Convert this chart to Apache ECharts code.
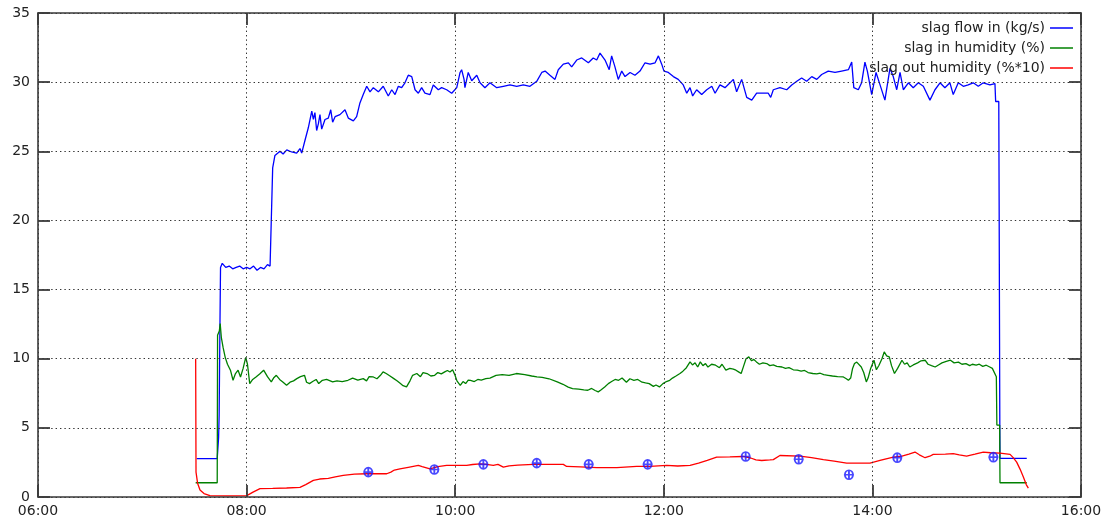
<!DOCTYPE html>
<html>
<head>
<meta charset="utf-8">
<title>Slag dryer log</title>
<script src="https://cdn.jsdelivr.net/npm/echarts@6/dist/echarts.min.js"></script>
<style>
  html, body { margin: 0; padding: 0; background: #ffffff; }
  #chart { width: 1106px; height: 524px; }
</style>
</head>
<body>
<div id="chart"></div>
<script>
// Time is given in minutes after midnight; values as logged.
const seriesNames = ['slag flow in (kg/s)', 'slag in humidity (%)', 'slag out humidity (%*10)'];
const xTickLabels = ['06:00', '08:00', '10:00', '12:00', '14:00', '16:00'];
const yTickLabels = ['0', '5', '10', '15', '20', '25', '30', '35'];

// slag flow in (kg/s)
const flowIn = [
  [451.3,2.78],[463.1,2.78],[463.9,4.3],[464.2,5.9],[464.6,11.5],[465.0,16.6],[466,16.9],[468,16.6],[470,16.7],
  [472,16.5],[474,16.6],[476,16.7],[478,16.5],[480,16.6],[482,16.5],[484,16.7],[486,16.4],[488,16.6],[490,16.5],
  [492,16.8],[493.5,16.7],[495.0,23.8],[496.3,24.7],[499.2,25.0],[501,24.8],[503.1,25.1],[505.9,24.95],[508.8,24.87],
  [510.7,25.2],[511.7,24.87],[513.6,25.8],[515.5,26.7],[517.5,27.9],[518.4,27.3],[519.3,27.8],[520.3,26.5],[521.3,27.0],
  [522.2,27.65],[523.2,26.6],[525.1,27.3],[527.0,27.4],[528.4,28.0],[529.5,27.1],[530.9,27.5],[533.7,27.65],[536.6,28.0],
  [538.5,27.4],[541.4,27.2],[543.3,27.5],[545.2,28.5],[547.1,29.1],[549.1,29.7],[551.0,29.3],[552.9,29.6],[555.8,29.3],
  [558.6,29.7],[561.5,29.0],[563.5,29.45],[565.4,29.1],[567.3,29.7],[569.2,29.6],[571.1,29.95],[573.0,30.5],[575.0,30.4],
  [576.9,29.45],[578.8,29.2],[580.7,29.6],[582.6,29.2],[585.5,29.1],[587.4,29.8],[590.3,29.45],[592.2,29.6],[595.1,29.45],
  [598.0,29.2],[600.9,29.6],[602.8,30.7],[603.7,30.9],[605.1,30.2],[605.6,29.6],[607.5,30.7],[609.5,30.1],[612.4,30.5],
  [614.3,29.95],[617.1,29.6],[620.0,29.95],[623.9,29.6],[627.7,29.7],[631.5,29.8],[635.4,29.7],[639.2,29.8],[643.0,29.7],
  [646.9,30.06],[649.8,30.7],[651.7,30.8],[654.5,30.5],[657.4,30.2],[659.3,30.9],[662.2,31.3],[665.1,31.4],[667.0,31.1],
  [669.9,31.6],[672.8,31.75],[676.6,31.4],[679.4,31.75],[681.4,31.6],[683.3,32.1],[686.2,31.6],[688.6,30.9],[690.0,31.9],
  [691.9,31.1],[693.8,30.2],[695.8,30.8],[697.7,30.4],[700.6,30.7],[703.4,30.5],[706.3,30.8],[709.2,31.4],[712.1,31.3],
  [715.0,31.4],[716.9,31.9],[718.8,31.3],[720.1,30.8],[722.6,30.7],[725.5,30.4],[728.3,30.2],[731.2,29.8],[733.2,29.2],
  [735.1,29.6],[736.6,29.0],[738.9,29.45],[741.8,29.1],[744.7,29.45],[747.6,29.7],[749.5,29.2],[752.3,29.8],[755.2,29.6],
  [758.1,29.95],[760.0,30.2],[761.9,29.3],[764.8,30.2],[767.7,28.9],[770.6,28.7],[773.4,29.2],[777.3,29.2],[780.1,29.2],
  [781.5,28.9],[783.0,29.45],[786.8,29.6],[790.7,29.45],[793.6,29.8],[796.5,30.06],[799.3,30.3],[802.2,30.06],[805.1,30.4],
  [808.0,30.2],[810.8,30.55],[814.6,30.8],[818.5,30.7],[822.3,30.8],[826.2,30.9],[828.1,31.45],[829.3,29.6],[831.9,29.45],
  [833.8,29.95],[835.7,31.45],[837.1,30.8],[839.6,29.1],[842.1,30.7],[844.4,29.8],[847.2,28.7],[850.1,31.0],[852.0,30.4],
  [854.0,29.45],[855.9,30.7],[857.8,29.45],[860.7,29.95],[863.5,29.6],[866.4,29.95],[869.3,29.7],[873.1,28.7],[876.0,29.45],
  [878.9,29.95],[881.7,29.6],[884.6,29.95],[886.5,29.1],[889.4,29.95],[892.3,29.7],[895.1,29.8],[898.0,29.95],[900.9,29.7],
  [903.8,29.95],[907.6,29.8],[910.5,29.9],[910.9,28.6],[912.7,28.6],[912.9,21.5],[913.3,5.2],[913.4,2.8],[928.8,2.8]
];

// slag in humidity (%)
const humidityIn = [
  [450.7,1.03],[463.1,1.03],[463.3,11.7],[464.3,12.0],[464.8,12.55],[465.5,11.5],[466.5,10.8],[467.7,10.1],[469,9.6],
  [470.7,9.17],[472.2,8.44],[473.5,8.9],[475.1,9.17],[476.5,8.68],[478,9.3],[479.5,10.1],[480.5,9.6],[481.8,8.2],
  [483.5,8.5],[485.4,8.68],[487.5,8.9],[489.8,9.17],[492,8.7],[494.2,8.32],[495.5,8.6],[497.1,8.8],[499,8.5],[501,8.3],
  [503.0,8.08],[505,8.3],[507,8.4],[508.9,8.56],[511,8.7],[513.3,8.8],[514.5,8.3],[516.2,8.2],[518,8.35],[520,8.5],
  [521.5,8.2],[523.6,8.44],[526,8.5],[529.5,8.32],[532,8.4],[535,8.35],[538.3,8.44],[541,8.6],[544,8.45],[547.1,8.56],
  [549,8.4],[550.5,8.7],[552.9,8.68],[555,8.55],[557,8.8],[558.5,9.05],[560.3,8.93],[562.5,8.75],[564.7,8.56],[566.5,8.4],
  [568.5,8.2],[570,8.05],[572.0,7.96],[574,8.4],[575.5,8.8],[577.9,8.93],[580,8.7],[581.5,9.0],[583.8,8.93],[586,8.75],
  [588.2,8.8],[590,9.0],[592,8.9],[594,9.05],[595.5,9.15],[597.0,9.04],[598.5,9.2],[599.9,8.8],[601,8.4],[602.9,8.08],
  [604.5,8.35],[606,8.2],[607.5,8.45],[608.8,8.44],[611,8.35],[613,8.5],[615,8.45],[617.6,8.56],[620,8.6],[623.5,8.8],
  [627,8.85],[631,8.8],[635.2,8.93],[640,8.85],[644,8.75],[647.0,8.68],[650,8.65],[654,8.55],[658.7,8.32],[662,8.15],
  [665,7.95],[667.5,7.84],[671,7.8],[674,7.75],[676.3,7.72],[678.5,7.85],[680.5,7.7],[682.3,7.6],[684,7.75],[686,7.95],
  [688.1,8.2],[690,8.35],[692,8.5],[694.0,8.44],[696,8.6],[698.5,8.3],[700.5,8.55],[702.8,8.44],[705,8.5],[707.5,8.3],
  [709.5,8.25],[711.6,8.2],[714,8.0],[715.5,8.1],[717.5,7.96],[719.5,8.2],[721.5,8.35],[723.4,8.44],[725,8.6],[727,8.75],
  [729.3,8.93],[731,9.1],[733,9.35],[735.1,9.77],[736.5,9.55],[738,9.7],[739.5,9.4],[741.0,9.77],[742.5,9.5],[744,9.65],
  [745.4,9.4],[747.5,9.6],[749.8,9.53],[752,9.35],[753.5,9.6],[755.7,9.17],[758,9.3],[760,9.25],[761.5,9.17],[763,9.05],
  [764.5,8.93],[766,9.5],[767.3,10.0],[768.9,10.13],[770.5,9.85],[771.8,9.95],[773.3,9.77],[775,9.6],[777,9.7],[779.2,9.65],
  [781,9.5],[783,9.55],[785,9.45],[788.0,9.4],[790,9.3],[792,9.35],[794.5,9.2],[796.8,9.17],[799,9.1],[801,9.15],[803,9.0],
  [805.7,8.93],[808,8.9],[810,8.95],[812,8.85],[814.5,8.8],[817,8.75],[820,8.7],[823.3,8.68],[825,8.55],[826.2,8.44],
  [827.5,8.6],[828.6,9.3],[829.7,9.65],[831,9.75],[833.6,9.4],[835,9.0],[836.5,8.32],[837.5,8.6],[839,9.3],[840.9,9.89],
  [842.3,9.2],[843.8,9.53],[845.5,10.0],[846.8,10.49],[848.2,10.2],[849.7,10.13],[851,9.5],[852.7,8.93],[854.5,9.3],
  [857.0,9.89],[858.5,9.6],[860,9.7],[861.5,9.4],[863.5,9.55],[866,9.7],[868,9.85],[870.3,9.89],[872,9.6],[874,9.5],
  [876.1,9.4],[878,9.55],[880,9.7],[882.5,9.8],[884.9,9.89],[887,9.7],[889.5,9.75],[891.5,9.6],[893.8,9.65],[896,9.5],
  [897.5,9.6],[899.7,9.53],[901.5,9.6],[903.5,9.45],[905.5,9.53],[907.5,9.4],[909,9.3],[910.0,9.17],[911.3,8.7],
  [911.6,5.2],[913.2,5.2],[913.4,1.03],[928.8,1.03]
];

// slag out humidity (%*10)
const humidityOut = [
  [450.7,10.0],[450.9,1.8],[451.8,1.0],[453.2,0.5],[455.5,0.25],[458.9,0.1],[470,0.08],[480.1,0.1],[483.7,0.35],
  [487.7,0.6],[495,0.62],[503,0.65],[510.7,0.7],[514,0.9],[518.4,1.2],[522,1.3],[527,1.35],[531,1.45],[535.6,1.56],
  [542,1.65],[549.1,1.68],[556,1.68],[560.6,1.68],[563,1.8],[565,1.95],[568.2,2.04],[573,2.15],[578.8,2.28],[581,2.2],
  [585.5,2.04],[590,2.2],[595.1,2.28],[606.6,2.28],[610,2.35],[614.3,2.4],[618,2.36],[621.9,2.28],[624.6,2.36],
  [627.7,2.16],[631,2.25],[636,2.3],[644.9,2.36],[655,2.36],[662.2,2.36],[664.1,2.21],[672,2.18],[681.4,2.12],[693,2.12],
  [704.4,2.21],[712,2.22],[721.7,2.28],[728,2.24],[735.1,2.28],[740,2.45],[745,2.65],[750.4,2.88],[758,2.9],[765.7,2.93],
  [770,2.82],[773,2.68],[776.3,2.64],[781,2.68],[783.0,2.7],[786.8,3.0],[798.3,2.95],[805,2.85],[811.8,2.7],[818,2.6],
  [825.2,2.45],[838.6,2.45],[844.4,2.64],[852.0,2.88],[857,2.95],[861,3.1],[864.5,3.25],[867,3.05],[870.3,2.84],[873,2.95],
  [875.0,3.08],[882,3.1],[886.5,3.13],[890,3.05],[894.2,2.96],[899,3.1],[903.8,3.25],[908,3.2],[913.4,3.17],[919.2,3.08],
  [921,2.85],[923.0,2.52],[925,2.0],[926.9,1.43],[928.5,0.9],[929.7,0.64]
];

// lab samples of slag out humidity (%*10)
const labSamples = [
  [550,1.8],[588,1.99],[616.2,2.36],[646.9,2.45],[676.8,2.36],[710.7,2.36],
  [767.1,2.93],[797.6,2.73],[826.5,1.61],[854.3,2.84],[909.6,2.88]
];

const FONT = 'DejaVu Sans';
const frameColor = '#3a3a3a';
const gridDots = { type: [1.4, 3], color: '#333333', width: 1 };

function frameAxis(extra) {
  return Object.assign({
    type: 'value',
    axisLine: { show: true, onZero: false, lineStyle: { color: frameColor, width: 1.6 } },
    axisTick: { show: true, inside: true, length: 12, lineStyle: { color: frameColor, width: 1.8 } },
    splitLine: { show: false },
    z: 10
  }, extra);
}

const xRange = { min: 360, max: 960, interval: 120 };
const yRange = { min: 0, max: 35, interval: 5 };

const chart = echarts.init(document.getElementById('chart'), null, { renderer: 'canvas' });

chart.setOption({
  animation: false,
  backgroundColor: '#ffffff',
  grid: { left: 38, right: 25, top: 13, bottom: 27, containLabel: false },
  legend: {
    data: seriesNames,
    orient: 'vertical',
    right: 28,
    top: 16,
    align: 'right',
    icon: 'rect',
    itemWidth: 23,
    itemHeight: 1.5,
    itemGap: 6,
    selectedMode: false,
    textStyle: { fontFamily: FONT, fontSize: 14, color: '#222222', lineHeight: 14 }
  },
  xAxis: [
    frameAxis(Object.assign({
      position: 'bottom',
      axisLabel: {
        fontFamily: FONT, fontSize: 14, color: '#222222', margin: 7,
        showMinLabel: true, showMaxLabel: true,
        formatter: v => xTickLabels[Math.round((v - 360) / 120)]
      },
      splitLine: { show: true, lineStyle: gridDots }
    }, xRange)),
    frameAxis(Object.assign({ position: 'top', axisLabel: { show: false } }, xRange))
  ],
  yAxis: [
    frameAxis(Object.assign({
      position: 'left',
      axisLabel: {
        fontFamily: FONT, fontSize: 14, color: '#222222', margin: 8,
        showMinLabel: true, showMaxLabel: true,
        formatter: v => yTickLabels[Math.round(v / 5)]
      },
      splitLine: { show: true, lineStyle: gridDots }
    }, yRange)),
    frameAxis(Object.assign({ position: 'right', axisLabel: { show: false } }, yRange))
  ],
  series: [
    {
      name: seriesNames[0], type: 'line', data: flowIn, showSymbol: false, symbol: 'none',
      color: '#0000ff', lineStyle: { color: '#0000ff', width: 1.3 }, z: 2
    },
    {
      name: seriesNames[1], type: 'line', data: humidityIn, showSymbol: false, symbol: 'none',
      color: '#008000', lineStyle: { color: '#008000', width: 1.3 }, z: 3
    },
    {
      name: seriesNames[2], type: 'line', data: humidityOut, showSymbol: false, symbol: 'none',
      color: '#ff0000', lineStyle: { color: '#ff0000', width: 1.3 }, z: 4
    },
    {
      name: 'lab samples', type: 'scatter', data: labSamples,
      symbol: 'path://M1,5A4,4 0 1 1 9,5A4,4 0 1 1 1,5ZM0,5L10,5M5,1L5,9',
      symbolSize: [10, 9],
      itemStyle: { color: 'rgba(0,0,0,0)', borderColor: '#1a1aff', borderWidth: 1.8 },
      z: 5
    }
  ]
});
</script>
</body>
</html>
